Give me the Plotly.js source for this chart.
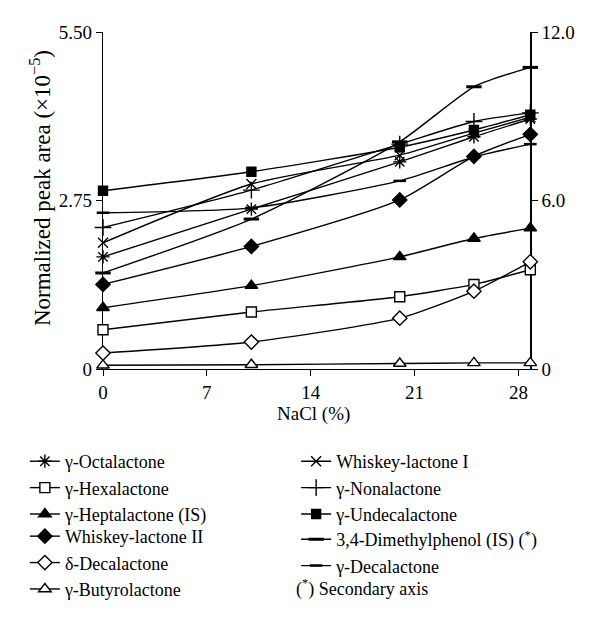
<!DOCTYPE html>
<html>
<head>
<meta charset="utf-8">
<script src="https://cdn.plot.ly/plotly-3.0.1.min.js"></script>
<style>html,body{margin:0;padding:0;background:#fff;}#chart{width:600px;height:626px;}</style>
</head>
<body>
<div id="chart"></div>
<script>
// NaCl concentration (%)
const nacl = [0, 10, 20, 25, 28.8];
// Normalized peak areas (x10^-5), primary axis
const octalactone   = [1.83, 2.61, 3.38, 3.79, 4.08];
const hexalactone   = [0.64, 0.93, 1.18, 1.38, 1.62];
const heptalactone  = [1.00, 1.36, 1.83, 2.13, 2.30];
const whiskey2      = [1.38, 2.00, 2.76, 3.47, 3.83];
const deltaDeca     = [0.26, 0.44, 0.83, 1.27, 1.75];
const butyrolactone = [0.06, 0.07, 0.09, 0.10, 0.10];
const whiskey1      = [2.06, 3.02, 3.49, 3.85, 4.11];
const nonalactone   = [2.31, 2.92, 3.67, 4.04, 4.18];
const undecalactone = [2.91, 3.22, 3.62, 3.90, 4.15];
const gammaDeca     = [2.55, 2.63, 3.07, 3.46, 3.67];
// Secondary axis
const dimethylphenol = [3.42, 5.34, 8.09, 10.05, 10.74];

const leftTickVals = [0, 2.75, 5.5];
const leftTickText = ["0", "2.75", "5.50"];
const rightTickVals = [0, 6, 12];
const rightTickText = ["0", "6.0", "12.0"];
const xTickVals = [0, 7, 14, 21, 28];

const FONT = "Liberation Serif, Times New Roman, serif";
const BLK = "#000";

function tr(name, y, symbol, size, opts) {
  opts = opts || {};
  return {
    x: nacl, y: y, name: name, type: "scatter", mode: "lines+markers",
    cliponaxis: false,
    line: {color: BLK, width: 1.4, shape: "spline", smoothing: 0.6},
    marker: {symbol: symbol, size: size, color: opts.fill || BLK,
             line: {color: BLK, width: opts.lw || 1.4}},
    yaxis: opts.yaxis || "y",
    legend: opts.legend
  };
}

const data = [
  tr("γ-Octalactone", octalactone, "asterisk-open", 11, {legend: "legend"}),
  tr("γ-Hexalactone", hexalactone, "square", 10, {fill: "#fff", legend: "legend"}),
  tr("γ-Heptalactone (IS)", heptalactone, "triangle-up", 11, {legend: "legend"}),
  tr("Whiskey-lactone II", whiskey2, "diamond", 11, {legend: "legend3"}),
  tr("δ-Decalactone", deltaDeca, "diamond", 11, {fill: "#fff", legend: "legend3"}),
  tr("γ-Butyrolactone", butyrolactone, "triangle-up", 11, {fill: "#fff", legend: "legend3"}),
  tr("Whiskey-lactone I", whiskey1, "x-thin-open", 10, {legend: "legend2"}),
  tr("γ-Nonalactone", nonalactone, "cross-thin-open", 12, {legend: "legend2"}),
  tr("γ-Undecalactone", undecalactone, "square", 9, {legend: "legend2"}),
  tr("3,4-Dimethylphenol (IS) (<sup>*</sup>)", dimethylphenol, "line-ew-open", 11, {legend: "legend4", yaxis: "y2", lw: 3}),
  tr("γ-Decalactone", gammaDeca, "line-ew-open", 9, {legend: "legend4", lw: 2.5})
];

function leg(x, y) {
  return {
    x: x, y: y, xanchor: "left", yanchor: "top",
    bgcolor: "rgba(0,0,0,0)", font: {family: FONT, size: 18},
    traceorder: "normal", itemwidth: 30, tracegroupgap: 0
  };
}

const xMax = 29.25;
const layout = {
  width: 600, height: 626,
  margin: {l: 103, r: 63, t: 32, b: 257},
  paper_bgcolor: "#fff", plot_bgcolor: "#fff",
  font: {family: FONT, size: 18, color: BLK},
  showlegend: true,
  xaxis: {
    range: [0, xMax], tickvals: xTickVals, ticks: "outside", ticklen: 6,
    tickcolor: BLK, showline: true, linecolor: BLK, linewidth: 1.3,
    showgrid: false, zeroline: false, layer: "below traces",
    tickfont: {family: FONT, size: 19}
  },
  yaxis: {
    range: [0, 5.5], tickvals: leftTickVals, ticktext: leftTickText,
    ticks: "outside", ticklen: 6, tickcolor: BLK, showline: true,
    linecolor: BLK, linewidth: 1.3, showgrid: false, zeroline: false,
    layer: "below traces", tickfont: {family: FONT, size: 19}
  },
  yaxis2: {
    range: [0, 12], tickvals: rightTickVals, ticktext: rightTickText,
    overlaying: "y", side: "right", anchor: "free", position: 28.8 / xMax,
    ticks: "outside", ticklen: 6, tickcolor: BLK, showline: true,
    linecolor: BLK, linewidth: 1.3, showgrid: false, zeroline: false,
    layer: "below traces", tickfont: {family: FONT, size: 19}
  },
  legend: leg(-0.18, -0.2196),
  legend3: leg(-0.18, -0.442),
  legend2: leg(0.445, -0.2196),
  legend4: leg(0.445, -0.451),
  annotations: [
    {xref: "paper", yref: "paper", x: 0.44, y: -0.650, xanchor: "left", yanchor: "middle",
     showarrow: false, text: "(<sup>*</sup>) Secondary axis", font: {family: FONT, size: 18}},
    {xref: "paper", yref: "paper", x: 0.486, y: -0.1335, xanchor: "center", yanchor: "middle",
     showarrow: false, text: "NaCl (%)", font: {family: FONT, size: 19}},
    {xref: "paper", yref: "paper", x: -0.145, y: 0.537, xanchor: "center", yanchor: "middle",
     textangle: -90, showarrow: false, text: "Normalized peak area (×10<sup>−5</sup>)",
     font: {family: FONT, size: 23}}
  ]
};

Plotly.newPlot("chart", data, layout, {displayModeBar: false, staticPlot: true});
</script>
</body>
</html>
